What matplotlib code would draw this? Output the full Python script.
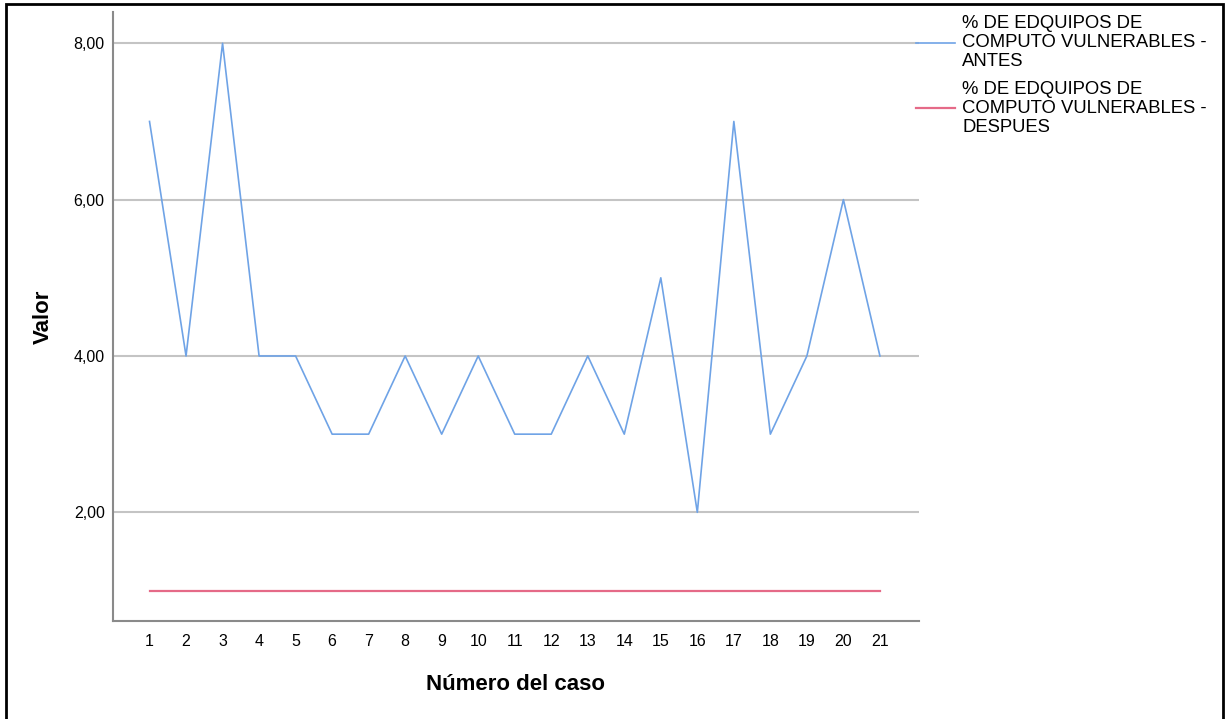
import matplotlib
matplotlib.use("Agg")
import matplotlib.pyplot as plt
from matplotlib.patches import Rectangle

cases = list(range(1, 22))
antes = [7, 4, 8, 4, 4, 3, 3, 4, 3, 4, 3, 3, 4, 3, 5, 2, 7, 3, 4, 6, 4]
despues = [1] * 21
yticks = [2, 4, 6, 8]
ytick_labels = ["2,00", "4,00", "6,00", "8,00"]
label_antes = "% DE EDQUIPOS DE\nCOMPUTO VULNERABLES -\nANTES"
label_despues = "% DE EDQUIPOS DE\nCOMPUTO VULNERABLES -\nDESPUES"

plt.rcParams['font.family'] = ['Liberation Sans', 'DejaVu Sans']

W, H = 1227, 719
fig = plt.figure(figsize=(W / 100, H / 100), dpi=100)
ax = fig.add_axes([113 / W, 1 - 621 / H, (919 - 113) / W, (621 - 12) / H])

ax.set_xlim(0, 22.07)
ax.set_ylim(0.61, 8.4)
ax.set_yticks(yticks)
ax.set_yticklabels(ytick_labels)
ax.set_xticks(cases)
ax.set_xticklabels([str(c) for c in cases])
ax.yaxis.grid(True, color='#c4c4c4', lw=1.5)
ax.set_axisbelow(True)

ax.plot(cases, antes, color='#6fa3e6', lw=1.2, label=label_antes)
ax.plot(cases, despues, color='#e56a88', lw=1.6, label=label_despues)

for s in ['top', 'right']:
    ax.spines[s].set_visible(False)
for s in ['left', 'bottom']:
    ax.spines[s].set_color('#8a8a8a')
    ax.spines[s].set_linewidth(1.5)
ax.tick_params(length=0, labelsize=11.5, pad=9)
ax.tick_params(axis='y', pad=6)

ax.set_xlabel("Número del caso", fontsize=16, fontweight='bold', labelpad=18)
ax.set_ylabel("Valor", fontsize=16, fontweight='bold', labelpad=14)

leg = ax.legend(loc='upper left', bbox_to_anchor=(916 / W, 1 - 15 / H),
                bbox_transform=fig.transFigure, frameon=False,
                fontsize=13.3, handlelength=2.1, handletextpad=0.4,
                labelspacing=0.55, borderpad=0, borderaxespad=0)
for t in leg.get_texts():
    t.set_linespacing(1.17)

rect = Rectangle((6 / W, -0.05), (1223 - 6) / W, 1 - 4 / H + 0.05,
                 transform=fig.transFigure, fill=False, edgecolor='black',
                 lw=2, clip_on=False)
fig.add_artist(rect)

fig.savefig("out.png", dpi=100)
